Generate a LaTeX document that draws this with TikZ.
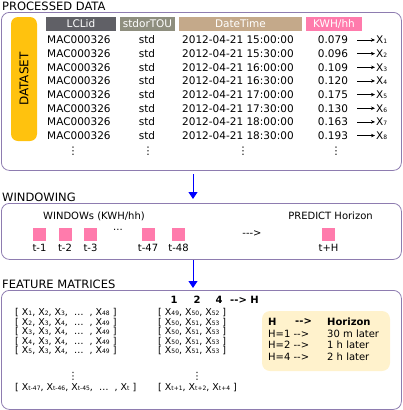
\documentclass[tikz,border=0pt]{standalone}
\usepackage{fontspec}
\setmainfont{DejaVu Sans}
\usetikzlibrary{arrows.meta, positioning, calc}

\definecolor{boxline}{HTML}{8E7CB0}
\definecolor{dsyellow}{HTML}{FFC20E}
\definecolor{hdrgray}{HTML}{606066}
\definecolor{hdrolive}{HTML}{8E8E7E}
\definecolor{hdrtan}{HTML}{C4A98A}
\definecolor{hdrpink}{HTML}{FF7BAC}
\definecolor{legendbg}{HTML}{FFF2CC}

\newcommand{\fsz}[1]{\fontsize{#1}{#1}\selectfont}
\newcommand{\Xsub}[1]{X{\fsz{6}#1}}
\newcommand{\darr}{-{}-{}>}

\tikzset{
	secbox/.style={draw=boxline, line width=0.8pt, rounded corners=8pt, anchor=north west, inner sep=0pt},
	title/.style={anchor=base west, inner sep=0pt, font=\fsz{11.5}},
	hdr/.style={text=white, minimum height=14pt, inner sep=0pt, font=\fsz{10.5}},
	cell/.style={inner sep=0pt, font=\fsz{10.5}},
	small/.style={inner sep=0pt, font=\fsz{10}},
	mat/.style={inner sep=0pt, anchor=west, font=\fsz{9.5}},
	winsq/.style={fill=hdrpink, minimum size=13pt, inner sep=0pt},
	flow/.style={-{Triangle[length=7pt,width=9pt]}, blue, line width=1pt},
	tox/.style={-{Stealth[length=4pt,width=3.5pt]}, line width=0.6pt}
}

\begin{document}
\begin{tikzpicture}[x=1pt, y=-1pt]
		\useasboundingbox (0,0) rectangle (402,410);

		% Processed data
		\node[title] (tdata) at (2,10.5) {PROCESSED DATA};
		\node[secbox, minimum width=400pt, minimum height=158pt] (data) at (1,12) {};
		\node[fill=dsyellow, rounded corners=7pt, minimum width=26pt, minimum height=124pt, inner sep=0pt] (dataset) at (24,79) {};
		\node[rotate=90, font=\fsz{12}] at (dataset) {DATASET};

		\node[hdr, fill=hdrgray, minimum width=70pt] (hid) at (81,24) {LCLid};
		\node[hdr, fill=hdrolive, minimum width=55pt] (htou) at (147.5,24) {stdorTOU};
		\node[hdr, fill=hdrtan, minimum width=123pt] (hdt) at (240.5,24) {DateTime};
		\node[hdr, fill=hdrpink, minimum width=56pt] (hkwh) at (334,24) {KWH/hh};

		\foreach \i/\hr/\v in {1/15:00:00/0.079, 2/15:30:00/0.096, 3/16:00:00/0.109, 4/16:30:00/0.120,
			5/17:00:00/0.175, 6/17:30:00/0.130, 7/18:00:00/0.163, 8/18:30:00/0.193} {
			\pgfmathsetmacro\ry{40+13.65*(\i-1)}
			\node[cell, anchor=west] (id\i) at (47,\ry) {MAC000326};
			\node[cell] (tou\i) at (147,\ry) {std};
			\node[cell, anchor=west] (dt\i) at (182,\ry) {2012-04-21 \hr};
			\node[cell] (kwh\i) at (333,\ry) {\v};
			\node[cell, anchor=west, inner sep=1pt] (x\i) at (375,\ry) {\Xsub{\i}};
			\draw[tox] ([xshift=9pt]kwh\i.east) -- (x\i);
		}
		\node[cell] (vd1) at (73,151) {⋮};
		\node[cell] (vd2) at (148,151) {⋮};
		\node[cell] (vd3) at (243,151) {⋮};
		\node[cell] (vd4) at (336,151) {⋮};

		\coordinate (a1top) at (193,174);
		\coordinate (a1bot) at (193,199);
		\draw[flow] (a1top) -- (a1bot);

		% Windowing
		\node[title] (twin) at (2,201) {WINDOWING};
		\node[secbox, minimum width=400pt, minimum height=56pt] (win) at (1,203) {};
		\node[small] (wtxt) at (94,216) {WINDOWs (KWH/hh)};
		\node[small] (ptxt) at (330.5,216) {PREDICT Horizon};
		\foreach \n/\xx/\lab in {w1/39.5/t-1, w2/65/t-2, w3/90.5/t-3, w47/148/t-47, w48/178.5/t-48, wh/328.5/t+H} {
			\node[winsq] (\n) at (\xx,234.5) {};
			\node[small, below=2.5pt of \n] (l\n) {\lab};
		}
		\node[small] (wdots) at (118,230) {...};
		\node[small] (warr) at (252,234) {-{}\darr};

		\coordinate (a2top) at (193,260);
		\coordinate (a2bot) at (193,288);
		\draw[flow] (a2top) -- (a2bot);

		% Feature matrices
		\node[title] (tfeat) at (2,288.5) {FEATURE MATRICES};
		\node[secbox, minimum width=400pt, minimum height=119pt] (feat) at (1,290) {};
		\node[small, font=\fsz{10}\bfseries] (c1) at (174,300) {1};
		\node[small, font=\fsz{10}\bfseries] (c2) at (197,300) {2};
		\node[small, font=\fsz{10}\bfseries] (c4) at (219,300) {4};
		\node[small, font=\fsz{10}\bfseries, anchor=west] (ch) at (230,300) {\darr{} H};

		\node[mat] (m1) at (15,313) {[ \Xsub{1}, \Xsub{2}, \Xsub{3},\ \ \dots\ \ , \Xsub{48} ]};
		\node[mat] (m2) at (15,322.5) {[ \Xsub{2}, \Xsub{3}, \Xsub{4},\ \ \dots\ \ , \Xsub{49} ]};
		\node[mat] (m3) at (15,332) {[ \Xsub{3}, \Xsub{3}, \Xsub{4},\ \ \dots\ \ , \Xsub{49} ]};
		\node[mat] (m4) at (15,341.5) {[ \Xsub{4}, \Xsub{3}, \Xsub{4},\ \ \dots\ \ , \Xsub{49} ]};
		\node[mat] (m5) at (15,351) {[ \Xsub{5}, \Xsub{3}, \Xsub{4},\ \ \dots\ \ , \Xsub{49} ]};
		\node[mat] (mt) at (15,388) {[ \Xsub{t-47}, \Xsub{t-46}, \Xsub{t-45},\ \ \dots\ \ , \Xsub{t} ]};
		\node[small] (md1) at (73,376) {⋮};

		\node[mat] (r1) at (158,313) {[ \Xsub{49}, \Xsub{50}, \Xsub{52} ]};
		\node[mat] (r2) at (158,322.5) {[ \Xsub{50}, \Xsub{51}, \Xsub{53} ]};
		\node[mat] (r3) at (158,332) {[ \Xsub{50}, \Xsub{51}, \Xsub{53} ]};
		\node[mat] (r4) at (158,341.5) {[ \Xsub{50}, \Xsub{51}, \Xsub{53} ]};
		\node[mat] (r5) at (158,351) {[ \Xsub{50}, \Xsub{51}, \Xsub{53} ]};
		\node[mat] (rt) at (158,388) {[ \Xsub{t+1}, \Xsub{t+2}, \Xsub{t+4} ]};
		\node[small] (md2) at (197,376) {⋮};

		% Horizon legend
		\node[fill=legendbg, rounded corners=8pt, minimum width=128pt, minimum height=60pt, inner sep=0pt] (leg) at (326,341) {};
		\node[small, anchor=west, font=\fsz{10}\bfseries] (lh1) at (268,322) {H};
		\node[small, anchor=west, font=\fsz{10}\bfseries] (lh2) at (295,322) {\darr};
		\node[small, anchor=west, font=\fsz{10}\bfseries] (lh3) at (327,322) {Horizon};
		\node[small, anchor=west] (la1) at (268,333.5) {H=1 \darr};
		\node[small, anchor=west] (la2) at (327,333.5) {30 m later};
		\node[small, anchor=west] (lb1) at (268,345) {H=2 \darr};
		\node[small, anchor=west] (lb2) at (327,345) {1 h later};
		\node[small, anchor=west] (lc1) at (268,357) {H=4 \darr};
		\node[small, anchor=west] (lc2) at (327,357) {2 h later};
	\end{tikzpicture}
\end{document}
